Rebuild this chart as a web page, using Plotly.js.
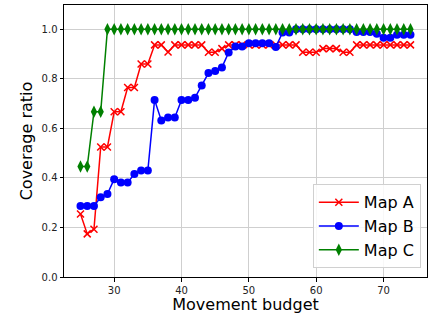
<!DOCTYPE html>
<html>
<head>
<meta charset="utf-8">
<script src="https://cdn.plot.ly/plotly-3.0.1.min.js"></script>
<style>html,body{margin:0;padding:0;background:#fff;}#chart{width:428px;height:314px;}</style>
</head>
<body>
<div id="chart"></div>
<script>
const budget = [25,26,27,28,29,30,31,32,33,34,35,36,37,38,39,40,41,42,43,44,45,46,47,48,49,50,51,52,53,54,55,56,57,58,59,60,61,62,63,64,65,66,67,68,69,70,71,72,73,74];
const mapA = [0.254,0.174,0.193,0.525,0.525,0.667,0.667,0.765,0.765,0.860,0.860,0.937,0.937,0.908,0.937,0.937,0.937,0.937,0.937,0.907,0.907,0.922,0.937,0.937,0.937,0.937,0.937,0.937,0.937,0.937,0.937,0.937,0.937,0.907,0.907,0.907,0.922,0.922,0.922,0.907,0.907,0.937,0.937,0.937,0.937,0.937,0.937,0.937,0.937,0.937];
const mapB = [0.287,0.287,0.287,0.322,0.335,0.395,0.381,0.381,0.416,0.430,0.430,0.715,0.632,0.644,0.644,0.715,0.715,0.724,0.773,0.823,0.832,0.846,0.906,0.930,0.930,0.944,0.944,0.944,0.944,0.928,0.987,0.987,1.0,1.0,1.0,1.0,1.0,1.0,1.0,1.0,1.0,0.989,0.989,0.989,0.982,0.966,0.966,0.978,0.978,0.978];
const mapC = [0.446,0.446,0.667,0.667,1.0,1.0,1.0,1.0,1.0,1.0,1.0,1.0,1.0,1.0,1.0,1.0,1.0,1.0,1.0,1.0,1.0,1.0,1.0,1.0,1.0,1.0,1.0,1.0,1.0,1.0,1.0,1.0,1.0,1.0,1.0,1.0,1.0,1.0,1.0,1.0,1.0,1.0,1.0,1.0,1.0,1.0,1.0,1.0,1.0,1.0];
const seriesNames = ['Map A','Map B','Map C'];
const xTicks = [30,40,50,60,70];
const yTicks = [0,0.2,0.4,0.6,0.8,1.0];

const traces = [
  {x: budget, y: mapA, name: seriesNames[0], mode: 'lines+markers',
   line: {color: '#ff0000', width: 1.5},
   marker: {symbol: 'x-thin-open', size: 7, color: '#ff0000', line: {color: '#ff0000', width: 1.5}}},
  {x: budget, y: mapB, name: seriesNames[1], mode: 'lines+markers',
   line: {color: '#0000ff', width: 1.5},
   marker: {symbol: 'circle', size: 8, color: '#0000ff'}},
  {x: budget, y: mapC, name: seriesNames[2], mode: 'lines+markers',
   line: {color: '#008000', width: 1.5},
   marker: {symbol: 'diamond-tall', size: 9, color: '#008000'}}
];

const font = "'DejaVu Sans', sans-serif";
const layout = {
  width: 428, height: 314,
  margin: {l: 64, r: 1, t: 5, b: 37},
  paper_bgcolor: '#ffffff', plot_bgcolor: '#ffffff',
  showlegend: true,
  font: {family: font, color: '#000'},
  xaxis: {
    range: [22.55, 76.45], tickvals: xTicks, ticktext: xTicks.map(String),
    showgrid: true, gridcolor: '#cfcfcf', gridwidth: 1, zeroline: false,
    showline: true, linecolor: '#000', linewidth: 1, mirror: true,
    ticks: 'outside', ticklen: 3.5, tickcolor: '#000', tickwidth: 1,
    tickfont: {family: font, size: 10, color: '#222'},
    title: {text: 'Movement budget', font: {family: font, size: 16, color: '#000'}, standoff: 8}
  },
  yaxis: {
    range: [0, 1.098], tickvals: yTicks, ticktext: yTicks.map(v => v.toFixed(1)),
    showgrid: true, gridcolor: '#cfcfcf', gridwidth: 1, zeroline: false,
    showline: true, linecolor: '#000', linewidth: 1, mirror: true,
    ticks: 'outside', ticklen: 3.5, tickcolor: '#000', tickwidth: 1,
    tickfont: {family: font, size: 10, color: '#222'},
    title: {text: 'Coverage ratio', font: {family: font, size: 16, color: '#000'}, standoff: 4}
  },
  legend: {
    x: 0.983, xanchor: 'right', y: 0.032, yanchor: 'bottom',
    bgcolor: 'rgba(255,255,255,0.85)', bordercolor: '#d0d0d0', borderwidth: 1,
    font: {family: font, size: 16, color: '#000'},
    itemwidth: 40
  }
};
Plotly.newPlot('chart', traces, layout, {displayModeBar: false, staticPlot: true});
</script>
</body>
</html>
